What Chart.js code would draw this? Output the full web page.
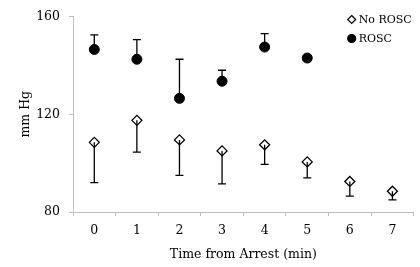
<!DOCTYPE html>
<html>
<head>
<meta charset="utf-8">
<script src="https://cdn.jsdelivr.net/npm/chart.js@4/dist/chart.umd.min.js"></script>
<style>
  html, body { margin: 0; padding: 0; background: #fff; }
  #wrap { width: 420px; height: 267px; position: relative; }
</style>
</head>
<body>
<div id="wrap"><canvas id="mapChart"></canvas></div>
<script>
// Data
const timeLabels = ['0', '1', '2', '3', '4', '5', '6', '7'];
const noRoscMean = [108.5, 117.5, 109.5, 105, 107.5, 100.5, 92.5, 88.5];
const noRoscErr = [16.5, 13, 14.5, 13.5, 8, 6.5, 6, 3.5];   // drawn downward
const roscMean = [146.5, 142.5, 126.5, 133.5, 147.5, 143, null, null];
const roscErr = [6, 8, 16, 4.5, 5.5, 0, null, null];        // drawn upward
const yTicks = [80, 120, 160];

const serif = "'DejaVu Serif', 'Liberation Serif', serif";
const axisGray = '#bfbfbf';

// One-sided error bars, from each dataset's errors / errDir
const errorBars = {
  id: 'errorBars',
  afterDatasetsDraw(chart) {
    const ctx = chart.ctx;
    const yScale = chart.scales.y;
    chart.data.datasets.forEach((ds, i) => {
      const meta = chart.getDatasetMeta(i);
      ctx.save();
      ctx.strokeStyle = '#000';
      ctx.lineWidth = 1.3;
      meta.data.forEach((pt, j) => {
        const v = ds.data[j];
        const e = ds.errors[j];
        if (v == null || !e) return;
        const x = pt.x;
        const y0 = yScale.getPixelForValue(v);
        const y1 = yScale.getPixelForValue(v + ds.errDir * e);
        ctx.beginPath();
        ctx.moveTo(x, y0);
        ctx.lineTo(x, y1);
        ctx.moveTo(x - 4, y1);
        ctx.lineTo(x + 4, y1);
        ctx.stroke();
      });
      ctx.restore();
    });
  }
};

// Small legend in the top right corner of the plot
const cornerLegend = {
  id: 'cornerLegend',
  afterDraw(chart) {
    const ctx = chart.ctx;
    const area = chart.chartArea;
    const x = area.right - 62;
    let y = area.top + 3;
    ctx.save();
    ctx.font = '11px ' + serif;
    ctx.textBaseline = 'middle';
    chart.data.datasets.forEach(ds => {
      ctx.fillStyle = ds.pointBackgroundColor;
      ctx.strokeStyle = '#000';
      ctx.lineWidth = 1.2;
      ctx.beginPath();
      if (ds.pointStyle === 'circle') {
        ctx.arc(x, y, 4, 0, Math.PI * 2);
      } else {
        ctx.moveTo(x, y - 4); ctx.lineTo(x + 4, y); ctx.lineTo(x, y + 4); ctx.lineTo(x - 4, y); ctx.closePath();
      }
      ctx.fill();
      ctx.stroke();
      ctx.fillStyle = '#000';
      ctx.fillText(ds.label, x + 7, y + 1);
      y += 19;
    });
    ctx.restore();
  }
};

new Chart(document.getElementById('mapChart'), {
  type: 'line',
  data: {
    labels: timeLabels,
    datasets: [{
      label: 'No ROSC',
      data: noRoscMean,
      errors: noRoscErr,
      errDir: -1,
      showLine: false,
      pointStyle: 'rectRot',
      pointRadius: 5,
      pointBorderWidth: 1.3,
      pointBorderColor: '#000',
      pointBackgroundColor: '#fff',
      order: 2
    }, {
      label: 'ROSC',
      data: roscMean,
      errors: roscErr,
      errDir: 1,
      showLine: false,
      pointStyle: 'circle',
      pointRadius: 5,
      pointBorderWidth: 1,
      pointBorderColor: '#000',
      pointBackgroundColor: '#000',
      order: 1
    }]
  },
  options: {
    responsive: true,
    maintainAspectRatio: false,
    animation: false,
    layout: { padding: { top: 16, right: 3, left: 18, bottom: 0 } },
    plugins: {
      legend: { display: false },
      tooltip: { enabled: false }
    },
    scales: {
      x: {
        offset: true,
        grid: {
          offset: true,
          drawOnChartArea: false,
          color: axisGray,
          tickLength: 4
        },
        border: { color: axisGray, width: 1 },
        ticks: { color: '#000', font: { family: serif, size: 12.5 }, padding: 7, maxRotation: 0 },
        title: {
          display: true,
          text: 'Time from Arrest (min)',
          color: '#000',
          font: { family: serif, size: 12.5 },
          padding: { top: 2, bottom: 5 }
        },
        afterFit(scale) { scale.height = 55; }
      },
      y: {
        min: 80,
        max: 160,
        afterBuildTicks(scale) { scale.ticks = yTicks.map(v => ({ value: v })); },
        grid: {
          drawOnChartArea: false,
          color: axisGray,
          tickLength: 4
        },
        border: { color: axisGray, width: 1 },
        ticks: { color: '#000', font: { family: serif, size: 12.5 }, padding: 9 },
        title: {
          display: true,
          text: 'mm Hg',
          color: '#000',
          font: { family: serif, size: 12.5 },
          padding: { top: 0, bottom: 0 }
        },
        afterFit(scale) { scale.width = 55; }
      }
    }
  },
  plugins: [errorBars, cornerLegend]
});
</script>
</body>
</html>
